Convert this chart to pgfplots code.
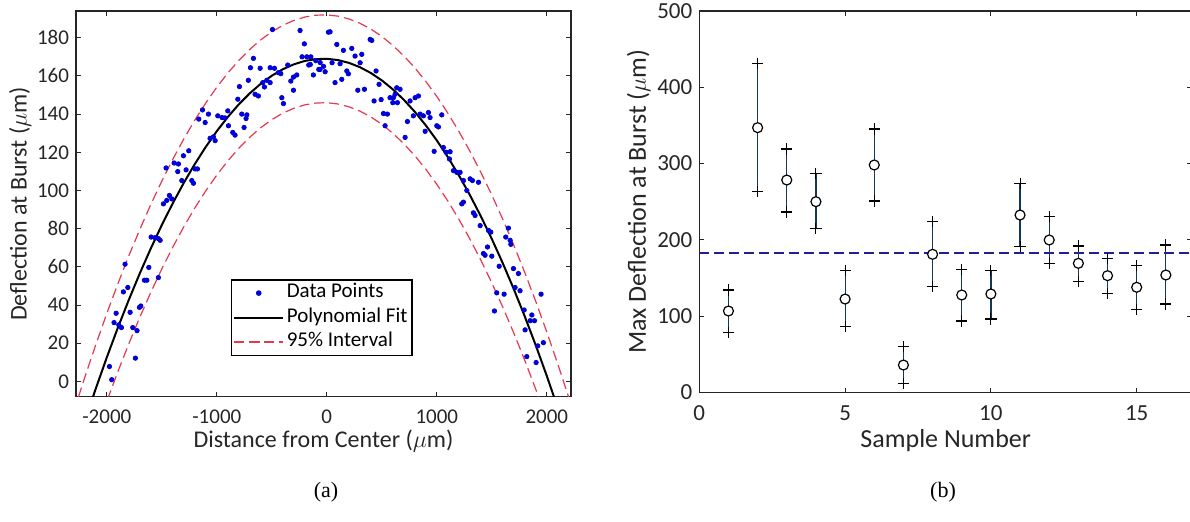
\documentclass[border=0pt]{standalone}
\usepackage{fontspec}
\setmainfont{Carlito}
\newfontfamily\timesfont{Liberation Serif}
\usepackage{pgfplots}
\usepackage{pgfplotstable}
\pgfplotsset{compat=1.18}

\definecolor{axgray}{rgb}{0.15,0.15,0.15}
\definecolor{ptblue}{rgb}{0,0,0.85}
\definecolor{intred}{rgb}{0.9,0.22,0.32}
\definecolor{barcol}{rgb}{0.08,0.22,0.35}
\definecolor{meanblue}{rgb}{0.12,0.12,0.6}

\pgfplotstableread{
x y lo hi
1 106.8 78.9 134.3
2 347.1 263.2 431.4
3 278.5 236.6 319.1
4 250.1 215.2 287.3
5 122.5 86.3 159.6
6 298.2 251.0 345.3
7 36.0 12.0 60.0
8 181.1 138.7 223.9
9 127.8 93.7 161.5
10 129.1 96.3 159.6
11 232.6 191.1 274.2
12 199.9 169.3 230.4
13 169.3 145.2 192.0
14 153.1 130.0 175.9
15 137.9 109.0 166.2
16 154.0 116.0 193.3
}\rdata

\pgfplotstableread{
x y
-2300 -38.71
-2200 -20.81
-2100 -3.72
-2000 12.57
-1900 28.04
-1800 42.72
-1700 56.58
-1600 69.64
-1500 81.90
-1400 93.34
-1300 103.99
-1200 113.82
-1100 122.85
-1000 131.07
-900 138.49
-800 145.10
-700 150.91
-600 155.90
-500 160.10
-400 163.48
-300 166.06
-200 167.84
-100 168.80
0 168.96
100 168.32
200 166.87
300 164.61
400 161.55
500 157.68
600 153.00
700 147.52
800 141.23
900 134.14
1000 126.24
1100 117.53
1200 108.02
1300 97.70
1400 86.57
1500 74.64
1600 61.90
1700 48.36
1800 34.01
1900 18.85
2000 2.89
2100 -13.88
2200 -31.45
2300 -49.83
}\fitdata

\pgfplotstableread{
x y
-2300 -15.71
-2200 2.19
-2100 19.28
-2000 35.57
-1900 51.04
-1800 65.72
-1700 79.58
-1600 92.64
-1500 104.90
-1400 116.34
-1300 126.99
-1200 136.82
-1100 145.85
-1000 154.07
-900 161.49
-800 168.10
-700 173.91
-600 178.90
-500 183.10
-400 186.48
-300 189.06
-200 190.84
-100 191.80
0 191.96
100 191.32
200 189.87
300 187.61
400 184.55
500 180.68
600 176.00
700 170.52
800 164.23
900 157.14
1000 149.24
1100 140.53
1200 131.02
1300 120.70
1400 109.57
1500 97.64
1600 84.90
1700 71.36
1800 57.01
1900 41.85
2000 25.89
2100 9.12
2200 -8.45
2300 -26.83
}\updata

\pgfplotstableread{
x y
-2300 -61.71
-2200 -43.81
-2100 -26.72
-2000 -10.43
-1900 5.04
-1800 19.72
-1700 33.58
-1600 46.64
-1500 58.90
-1400 70.34
-1300 80.99
-1200 90.82
-1100 99.85
-1000 108.07
-900 115.49
-800 122.10
-700 127.91
-600 132.90
-500 137.10
-400 140.48
-300 143.06
-200 144.84
-100 145.80
0 145.96
100 145.32
200 143.87
300 141.61
400 138.55
500 134.68
600 130.00
700 124.52
800 118.23
900 111.14
1000 103.24
1100 94.53
1200 85.02
1300 74.70
1400 63.57
1500 51.64
1600 38.90
1700 25.36
1800 11.01
1900 -4.15
2000 -20.11
2100 -36.88
2200 -54.45
2300 -72.83
}\lodata

\pgfplotstableread{
x y
-494 184.3
-243 183.8
-204 176.8
-225 170
-182 170
-145 170
-164 165.7
-122 160.5
-73 163.4
-667 169.2
-694 164.3
-606 164
-515 164.3
-476 164
-440 161.7
-713 157.7
-545 157.7
-582 156.5
-515 156.5
-652 150.4
-622 149.5
-567 154.2
-794 154.4
-355 165.7
-418 161.2
-327 157.3
-303 159.4
-273 160.5
-303 152.5
-409 148.6
-394 145.5
-991 139.1
-900 141.7
-809 147.8
-894 133.9
-855 130.4
-834 129
-773 140
-727 139.6
-752 133
-734 137.7
-952 138.2
-925 138
-1061 127.3
-1015 126.1
-1031 128.1
-1164 137.4
-1106 135.6
-1130 142.2
-1076 140
-1255 120.8
-1303 118.2
-1388 114.4
-1355 109.9
-1279 110.8
-1318 105.2
-1227 105.2
-1197 111.3
-1176 111.3
-1212 103.8
-1349 113.9
-1461 111.8
-1431 97.4
-1409 95.6
-1485 93
-1455 94.8
-1561 75.3
-1531 74.8
-1597 75.6
-1515 73.9
-1618 59.7
-1658 53
-1636 53
-1691 39.5
-1703 38.8
-1834 61.4
-1809 49.2
-1849 46.9
-1788 36.2
-1915 35.7
-1934 30.8
-1891 29.6
-1867 28.2
-1764 28.2
-1725 26.6
-1740 12.2
-1976 7.8
-1955 0.9
-1531 54.4
15 182.9
30 183.1
91 176.5
151 173.4
227 174.4
257 170.4
318 171.3
303 166.9
394 179.1
409 178.6
448 162.6
48 166.9
121 166.4
182 162.6
196 161.1
136 158.2
75 156.5
-61 163.4
-15 162.2
-100 168
-150 166
-60 167
-30 165
282 152.5
342 153
475 155.6
430 146.9
494 147.6
515 140.3
551 140
530 133.9
575 148.6
605 148.6
636 153.8
666 153
621 150.4
642 146
600 146
712 127.8
733 136.1
757 146.9
803 148.6
833 149.5
787 139.1
848 140
878 139.1
924 140.8
939 138.2
894 131
1000 133.9
1015 133.3
1045 139.6
976 120.5
1060 122.5
1085 120
1121 120.3
1115 116.5
1152 110.4
1182 109.5
1212 109.5
1303 106.1
1324 105.2
1242 105.2
1379 104.3
1273 100
1242 93.9
1227 93
1333 88.3
1348 86.9
1394 81.6
1470 79.1
1491 78.2
1651 80.3
1627 75.6
1667 73.9
1673 71.8
1461 70.4
1424 67
1439 66.1
1500 65.6
1567 60.3
1697 59.1
1742 56.5
1712 49.2
1757 47.5
1545 46.4
1612 45.7
1524 36.9
1948 45.7
1794 37.4
1864 34.8
1888 31.8
1849 31.8
1803 27
1918 18.6
1969 20.3
1818 13
1903 9.9
}\ptdata

\pgfplotsset{
  mstyle/.style={
    scale only axis,
    axis line style={axgray, line width=0.6pt},
    every tick/.style={axgray, line width=0.5pt},
    major tick length=2.5pt,
    tick align=inside,
    xtick pos=both, ytick pos=both,
    /pgf/number format/assume math mode=true,
    /pgf/number format/1000 sep={},
    tick label style={text=axgray},
    label style={text=axgray},
  },
}

\begin{document}
\begin{tikzpicture}
\begin{axis}[mstyle,
  at={(38pt,62.15pt)}, anchor=south west,
  width=247.5pt, height=192.85pt,
  xmin=-2280, xmax=2220, ymin=-8, ymax=194,
  xtick={-2000,-1000,0,1000,2000},
  ytick={0,20,40,60,80,100,120,140,160,180},
  tick label style={font=\fontsize{10.5}{12}\selectfont},
  xticklabel style={yshift=-3pt},
  xlabel={Distance from Center ($\mu$m)},
  ylabel={Deflection at Burst ($\mu$m)},
  label style={font=\fontsize{12}{14}\selectfont},
  xlabel style={at={(axis description cs:0.5,-0.115)}, anchor=center},
  ylabel style={at={(axis description cs:-0.113,0.5)}, anchor=center},
  legend style={at={(axis description cs:0.3125,0.1063)}, anchor=south west,
    draw=black, line width=0.6pt, fill=white, inner xsep=1pt, inner ysep=0.5pt,
    font=\fontsize{10.5}{12}\selectfont,
    nodes={inner sep=1.3pt, text height=7.2pt, text depth=2.4pt}},
  legend cell align=left,
  legend image code/.code={\draw[mark repeat=2,mark phase=2,#1] plot coordinates {(0cm,0cm) (0.43cm,0cm) (0.86cm,0cm)};},
]
\addplot[only marks, mark=*, mark size=1.1pt, mark options={draw=ptblue, fill=ptblue}] table[x=x,y=y] {\ptdata};
\addlegendentry{Data Points}
\addplot[black, line width=1pt, mark=none] table[x=x,y=y] {\fitdata};
\addlegendentry{Polynomial Fit}
\addplot[intred, line width=0.6pt, dash pattern=on 5pt off 2.5pt, mark=none] table[x=x,y=y] {\updata};
\addlegendentry{95\% Interval}
\addplot[intred, line width=0.6pt, dash pattern=on 5pt off 2.5pt, mark=none, forget plot] table[x=x,y=y] {\lodata};
\end{axis}

\begin{axis}[mstyle,
  at={(349.65pt,64.25pt)}, anchor=south west,
  width=246.4pt, height=190.75pt,
  xmin=0, xmax=16.9, ymin=0, ymax=500,
  xtick={0,5,10,15},
  ytick={0,100,200,300,400,500},
  tick label style={font=\fontsize{11.5}{13}\selectfont},
  xticklabel style={yshift=-3pt},
  xlabel={Sample Number},
  ylabel={Max Deflection at Burst ($\mu$m)},
  label style={font=\fontsize{13}{15}\selectfont},
  xlabel style={at={(axis description cs:0.5,-0.127)}, anchor=center},
  ylabel style={at={(axis description cs:-0.123,0.5)}, anchor=center},
]
\addplot[meanblue, line width=0.6pt, dash pattern=on 5pt off 2.5pt, mark=none] coordinates {(0,182.75) (16.9,182.75)};
\addplot[barcol, line width=0.6pt, draw=none, mark=none, error bars/.cd, y dir=both, y explicit, error mark=none,
  error bar style={draw=barcol, line width=0.6pt}]
  table[x=x, y=y, y error plus expr=\thisrow{hi}-\thisrow{y}, y error minus expr=\thisrow{y}-\thisrow{lo}] {\rdata};
\addplot[only marks, mark=+, mark size=2.8pt, mark options={draw=black, line width=0.55pt}] table[x=x,y=hi] {\rdata};
\addplot[only marks, mark=+, mark size=2.8pt, mark options={draw=black, line width=0.55pt}] table[x=x,y=lo] {\rdata};
\addplot[only marks, mark=*, mark size=2.5pt, mark options={draw=black, fill=white, line width=0.6pt}] table[x=x,y=y] {\rdata};
\end{axis}

\node[font=\timesfont\fontsize{11}{13}\selectfont] at (163pt,14.5pt) {(a)};
\node[font=\timesfont\fontsize{11}{13}\selectfont] at (471.5pt,14.5pt) {(b)};

\pgfresetboundingbox
\useasboundingbox (0,0) rectangle (595pt,260.5pt);
\end{tikzpicture}
\end{document}
